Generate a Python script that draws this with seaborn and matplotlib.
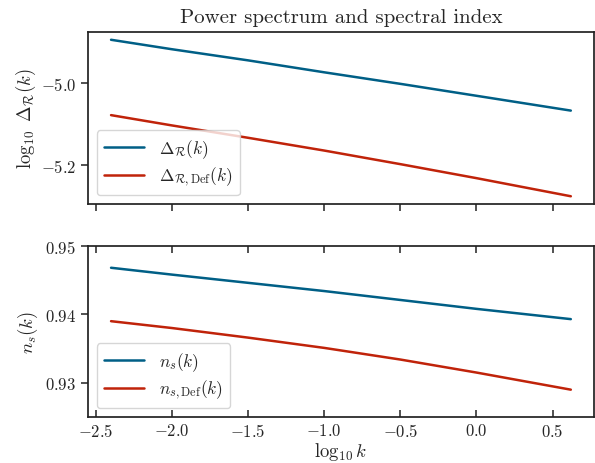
import numpy as np
import pandas as pd
import matplotlib
matplotlib.use("Agg")
import matplotlib.pyplot as plt
import seaborn as sns

# ---- data ----
log10_k = [-2.4, -2.0, -1.5, -1.0, -0.5, 0.0, 0.62]
logDelta = [-4.896, -4.919, -4.946, -4.975, -5.003, -5.032, -5.068]
logDelta_def = [-5.079, -5.104, -5.134, -5.165, -5.198, -5.232, -5.276]
ns = [0.9468, 0.9458, 0.9446, 0.9434, 0.9421, 0.9408, 0.9393]
ns_def = [0.9390, 0.9380, 0.9366, 0.9351, 0.9334, 0.9315, 0.9290]

top_labels = [r'$\Delta_{\mathcal{R}}(k)$', r'$\Delta_{\mathcal{R},\mathrm{Def}}(k)$']
bot_labels = [r'$n_s(k)$', r'$n_{s,\mathrm{Def}}(k)$']
colors = ['#005F86', '#C0230A']

sns.set_theme(style='ticks')
plt.rcParams['font.family'] = ['cmr10', 'DejaVu Serif']
plt.rcParams['mathtext.fontset'] = 'cm'
plt.rcParams['axes.formatter.use_mathtext'] = True
plt.rcParams['axes.unicode_minus'] = True

fig = plt.figure(figsize=(5.95, 4.64), dpi=100)
ax1 = fig.add_axes([0.148, 0.558, 0.850, 0.371])
ax2 = fig.add_axes([0.148, 0.099, 0.850, 0.369], sharex=ax1)

df_top = pd.DataFrame({
    'x': log10_k * 2,
    'y': logDelta + logDelta_def,
    'series': [top_labels[0]] * len(log10_k) + [top_labels[1]] * len(log10_k),
})
df_bot = pd.DataFrame({
    'x': log10_k * 2,
    'y': ns + ns_def,
    'series': [bot_labels[0]] * len(log10_k) + [bot_labels[1]] * len(log10_k),
})

sns.lineplot(data=df_top, x='x', y='y', hue='series', palette=colors, ax=ax1, linewidth=1.8)
sns.lineplot(data=df_bot, x='x', y='y', hue='series', palette=colors, ax=ax2, linewidth=1.8)

for ax in (ax1, ax2):
    for s in ax.spines.values():
        s.set_visible(True)
        s.set_linewidth(1.25)
        s.set_color('#222222')
    ax.tick_params(axis='both', labelsize=12, width=1.1, length=5, color='#222222')
    ax.set_xlabel('')

ax1.set_title('Power spectrum and spectral index', fontsize=15, pad=7)
ax1.set_ylabel(r'$\log_{10}\ \Delta_{\mathcal{R}}(k)$', fontsize=13.5, labelpad=2)
ax1.set_yticks([-5.0, -5.2])
ax1.tick_params(axis='x', labelbottom=False, direction='out')

ax2.set_ylim(0.925, 0.95)
ax2.set_yticks([0.93, 0.94, 0.95])
ax2.set_ylabel(r'$n_s(k)$', fontsize=13.5, labelpad=4)
ax2.set_xlabel(r'$\log_{10}k$', fontsize=13.5, labelpad=1)
ax2.tick_params(axis='x', direction='in', top=True)
ax2.set_xticks([-2.5, -2.0, -1.5, -1.0, -0.5, 0.0, 0.5])
ax2.set_xlim(-2.551, 0.771)

for ax in (ax1, ax2):
    leg = ax.legend(loc='lower left', fontsize=12.5, title=None, frameon=True,
                    handlelength=2.3, borderpad=0.4, labelspacing=0.3,
                    handletextpad=0.9)
    leg.get_frame().set_edgecolor('#cccccc')

fig.savefig('out.png', dpi=100)
